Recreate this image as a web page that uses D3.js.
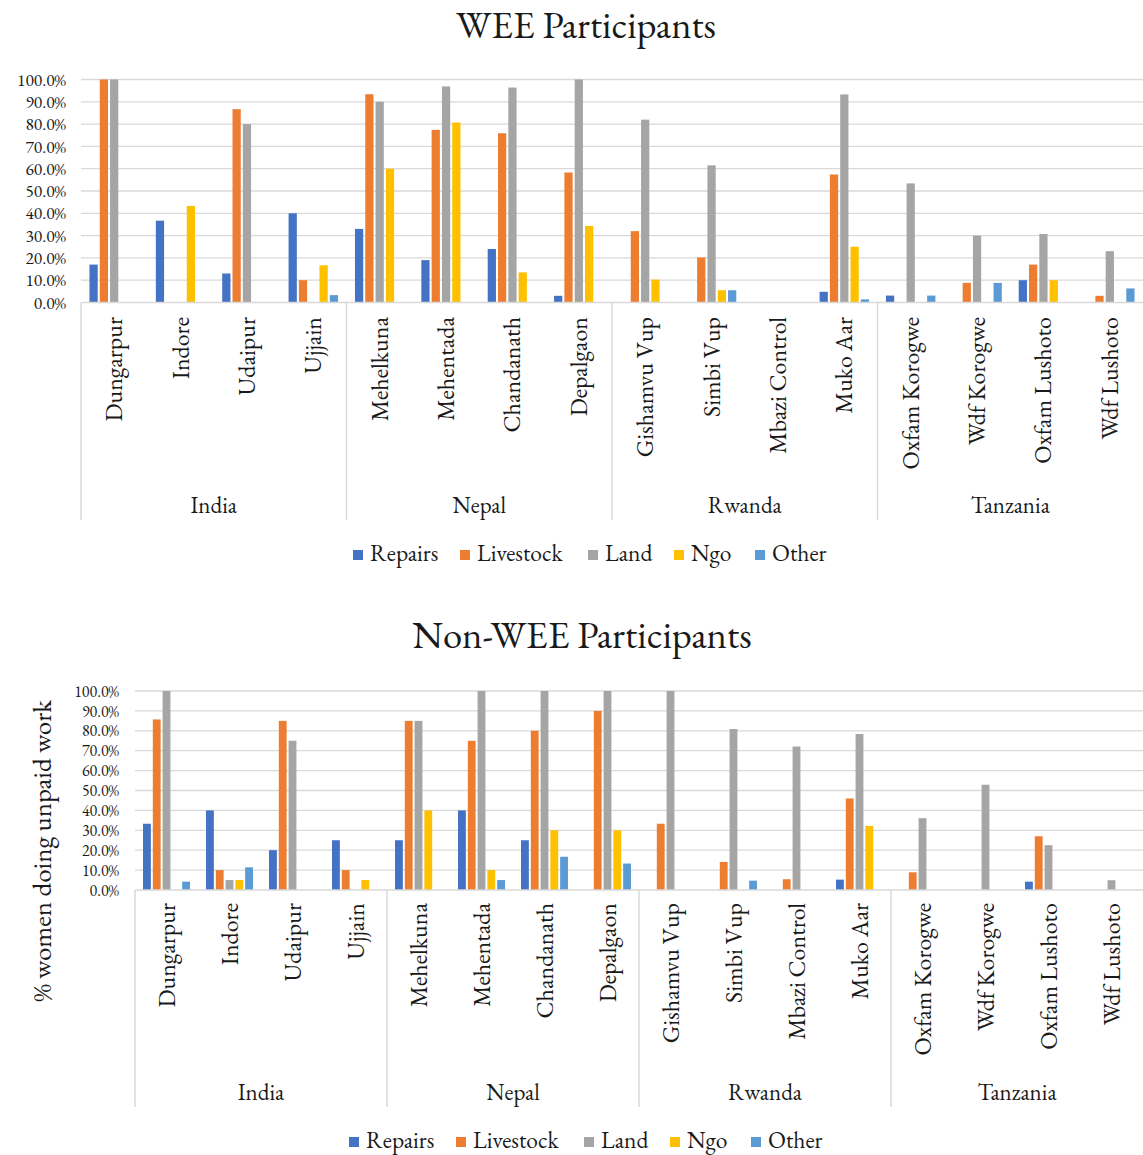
<!DOCTYPE html>
<html>
<head>
<meta charset="utf-8">
<script src="https://cdn.jsdelivr.net/npm/d3@7"></script>
<style>
  body { margin: 0; background: #fff; }
  svg { display: block; }
  svg text { font-family: "EB Garamond", "Liberation Serif", serif !important; }
</style>
</head>
<body>
<svg id="chart" width="1143" height="1155"></svg>
<script>
const categories = ["Dungarpur","Indore","Udaipur","Ujjain","Mehelkuna","Mehentada","Chandanath","Depalgaon","Gishamvu Vup","Simbi Vup","Mbazi Control","Muko Aar","Oxfam Korogwe","Wdf Korogwe","Oxfam Lushoto","Wdf Lushoto"];
const groups = ["India","Nepal","Rwanda","Tanzania"];
const groupSize = [4,4,4,4];
const seriesNames = ["Repairs","Livestock","Land","Ngo","Other"];
const seriesColors = ["#4472C4","#ED7D31","#A5A5A5","#FFC000","#5B9BD5"];
const yTicks = [0,0.1,0.2,0.3,0.4,0.5,0.6,0.7,0.8,0.9,1.0];

// WEE Participants
const weeRepairs   = [0.17,0.367,0.13,0.40, 0.33,0.19,0.24,0.03, 0,0,0,0.048, 0.031,0,0.10,0];
const weeLivestock = [1.00,0,0.867,0.10, 0.934,0.774,0.759,0.583, 0.32,0.202,0,0.574, 0,0.088,0.17,0.03];
const weeLand      = [1.00,0,0.80,0, 0.90,0.969,0.964,1.00, 0.82,0.615,0,0.933, 0.534,0.30,0.307,0.23];
const weeNgo       = [0,0.433,0,0.167, 0.60,0.807,0.135,0.343, 0.103,0.055,0,0.25, 0,0,0.10,0];
const weeOther     = [0,0,0,0.033, 0,0,0,0, 0,0.055,0,0.014, 0.031,0.088,0,0.063];

// Non-WEE Participants
const nonRepairs   = [0.333,0.40,0.20,0.25, 0.25,0.40,0.25,0, 0,0,0,0.052, 0,0,0.042,0];
const nonLivestock = [0.857,0.10,0.85,0.10, 0.85,0.75,0.80,0.90, 0.333,0.141,0.054,0.46, 0.089,0,0.27,0];
const nonLand      = [1.00,0.05,0.75,0, 0.85,1.00,1.00,1.00, 1.00,0.809,0.721,0.784, 0.361,0.529,0.225,0.049];
const nonNgo       = [0,0.05,0,0.05, 0.40,0.10,0.30,0.30, 0,0,0,0.322, 0,0,0,0];
const nonOther     = [0.042,0.114,0,0, 0,0.05,0.167,0.133, 0,0.047,0,0, 0,0,0,0];

const svg = d3.select("#chart");
const textColor = "#1a1a1a";
const gridColor = "#d9d9d9";

function drawChart(cfg) {
  const g = svg.append("g");
  const series = cfg.series;
  const x = d3.scaleBand().domain(categories).range([cfg.left, cfg.right]).paddingInner(0).paddingOuter(0);
  const xs = d3.scaleBand().domain(seriesNames).range([0, x.bandwidth()]).paddingInner(0.2).paddingOuter(0.82);
  const y = d3.scaleLinear().domain([0, 1]).range([cfg.bottom, cfg.top]);

  // title
  g.append("text").attr("x", cfg.titleX).attr("y", cfg.titleY)
    .attr("text-anchor", "middle").attr("font-size", cfg.titleSize).attr("fill", textColor).text(cfg.title);

  // gridlines
  g.append("g").selectAll("line").data(yTicks.slice(1)).join("line")
    .attr("x1", cfg.left).attr("x2", cfg.right)
    .attr("y1", d => y(d)).attr("y2", d => y(d))
    .attr("stroke", gridColor).attr("stroke-width", 1.3);

  // y axis labels
  const yAxis = d3.axisLeft(y).tickValues(yTicks).tickFormat(d3.format(".1%")).tickSize(0).tickPadding(0);
  const ya = g.append("g").attr("transform", `translate(${cfg.yLabelX},0)`).call(yAxis);
  ya.attr("font-family", null).attr("font-size", null);
  ya.select(".domain").remove();
  ya.selectAll("text").attr("font-size", cfg.tickSize).attr("fill", textColor);

  // bars
  series.forEach((vals, si) => {
    g.append("g").selectAll("rect").data(vals.map((v, i) => ({v, c: categories[i]}))).join("rect")
      .filter(d => d.v > 0)
      .attr("x", d => x(d.c) + xs(seriesNames[si]))
      .attr("width", xs.bandwidth())
      .attr("y", d => y(d.v))
      .attr("height", d => y(0) - y(d.v))
      .attr("fill", seriesColors[si]);
  });

  // axis line and group separators
  g.append("line").attr("x1", cfg.left).attr("x2", cfg.right)
    .attr("y1", y(0)).attr("y2", y(0)).attr("stroke", gridColor).attr("stroke-width", 1.5);
  let bounds = [0];
  groupSize.forEach((n, i) => bounds.push(bounds[i] + n));
  bounds.forEach((b) => {
    if (b >= categories.length) return;
    const xp = x(categories[b]);
    g.append("line").attr("x1", xp).attr("x2", xp)
      .attr("y1", y(0)).attr("y2", cfg.sepBottom)
      .attr("stroke", gridColor).attr("stroke-width", 1.5);
  });

  // category labels
  g.append("g").selectAll("text").data(categories).join("text")
    .attr("transform", d => `translate(${x(d) + x.bandwidth() / 2 + 8},${cfg.catLabelTop}) rotate(-90)`)
    .attr("text-anchor", "end").attr("font-size", 24).attr("fill", textColor).text(d => d);

  // group labels
  groups.forEach((gr, i) => {
    const x0 = x(categories[bounds[i]]);
    const x1 = bounds[i + 1] < categories.length ? x(categories[bounds[i + 1]]) : x(categories[categories.length - 1]) + x.bandwidth();
    g.append("text").attr("x", (x0 + x1) / 2).attr("y", cfg.groupY)
      .attr("text-anchor", "middle").attr("font-size", 23).attr("fill", textColor).text(gr);
  });

  // legend
  const lg = g.append("g").attr("transform", `translate(${cfg.legendX},${cfg.legendY})`);
  const offsets = [0, 107, 235, 321, 402];
  seriesNames.forEach((s, i) => {
    lg.append("rect").attr("x", offsets[i]).attr("y", -11).attr("width", 10).attr("height", 10).attr("fill", seriesColors[i]);
    lg.append("text").attr("x", offsets[i] + 17).attr("y", 0).attr("font-size", 23.5).attr("fill", textColor).text(s);
  });

  if (cfg.yTitle) {
    g.append("text").attr("transform", `translate(${cfg.yTitleX},${cfg.yTitleY}) rotate(-90)`)
      .attr("text-anchor", "middle").attr("font-size", 27).attr("fill", textColor).text(cfg.yTitle);
  }
}

drawChart({
  title: "WEE Participants", titleX: 586, titleY: 38, titleSize: 38.5, tickSize: 17.5,
  series: [weeRepairs, weeLivestock, weeLand, weeNgo, weeOther],
  left: 81, right: 1143, top: 79.5, bottom: 302.5,
  yLabelX: 66, sepBottom: 520, catLabelTop: 317, groupY: 513,
  legendX: 353, legendY: 561
});

drawChart({
  title: "Non-WEE Participants", titleX: 582, titleY: 648, titleSize: 38.7, tickSize: 16,
  series: [nonRepairs, nonLivestock, nonLand, nonNgo, nonOther],
  left: 135, right: 1143, top: 691, bottom: 890,
  yLabelX: 119, sepBottom: 1107, catLabelTop: 903, groupY: 1100,
  legendX: 349, legendY: 1148,
  yTitle: "% women doing unpaid work", yTitleX: 51, yTitleY: 851
});
</script>
</body>
</html>
